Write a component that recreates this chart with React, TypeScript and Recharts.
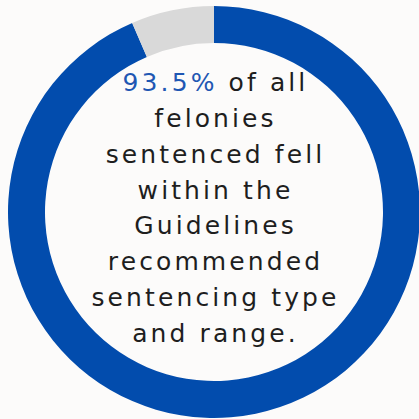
import React from "react";
import { PieChart, Pie, Cell, Label } from "recharts";

const shares = [
  { name: "Within Guidelines", value: 93.5 },
  { name: "Outside Guidelines", value: 6.5 },
];
const sliceColors = ["#024cad", "#d9d9d9"];
const highlight = "93.5%";
const captionLines = [
  " of all",
  "felonies",
  "sentenced fell",
  "within the",
  "Guidelines",
  "recommended",
  "sentencing type",
  "and range.",
];

const CX = 214;
const CY = 212;

const CenterText = () => {
  const step = 35.9;
  const mid = (captionLines.length - 1) / 2;
  return (
    <text
      x={CX}
      textAnchor="middle"
      fontFamily="'DejaVu Sans', sans-serif"
      fontSize={25}
      letterSpacing={3.1}
      fill="#1e1e1e"
    >
      {captionLines.map((line, i) => (
        <tspan key={i} x={CX + 1.5} y={CY + 4.5 + (i - mid) * step}>
          {i === 0 ? <tspan fill="#1f57b3">{highlight}</tspan> : null}
          {line}
        </tspan>
      ))}
    </text>
  );
};

const App = () => {
  return (
    <div
      style={{
        position: "fixed",
        left: 0,
        top: 0,
        width: 419,
        height: 419,
        background: "#fcfbfa",
      }}
    >
      <PieChart width={419} height={419} margin={{ top: 0, right: 0, bottom: 0, left: 0 }}>
        <Pie
          data={shares}
          dataKey="value"
          cx={CX}
          cy={CY}
          innerRadius={169}
          outerRadius={206}
          startAngle={90}
          endAngle={-270}
          stroke="none"
          isAnimationActive={false}
        >
          {shares.map((s, i) => (
            <Cell key={s.name} fill={sliceColors[i]} />
          ))}
          <Label position="center" content={<CenterText />} />
        </Pie>
      </PieChart>
    </div>
  );
};

export default App;
